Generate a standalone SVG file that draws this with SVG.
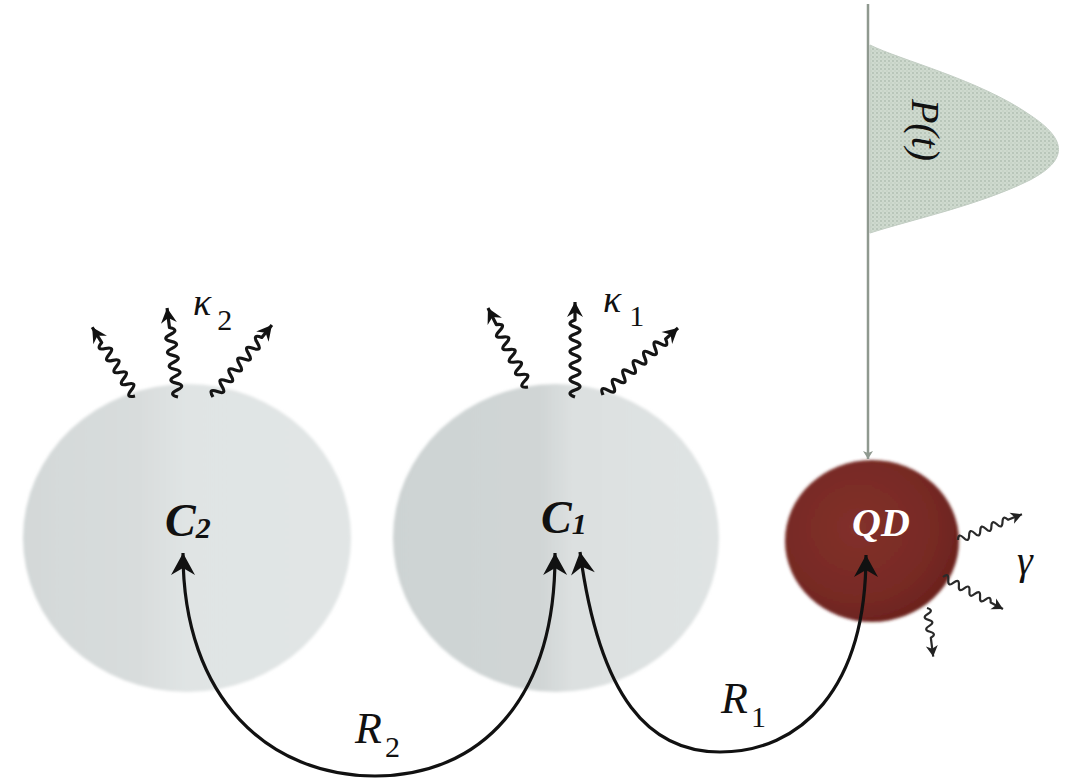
<svg xmlns="http://www.w3.org/2000/svg" width="1066" height="782" viewBox="0 0 1066 782">
  <style>
    .math { font-family: "Liberation Serif", "DejaVu Serif", serif; font-style: italic; fill: #111; }
    .lbl { font-family: "Liberation Serif", "DejaVu Serif", serif; font-style: italic; font-weight: bold; fill: #111; }
    .wave { fill: none; stroke: #151515; stroke-width: 3.2; stroke-linejoin: round; marker-end: url(#wh); }
    .gwave { fill: none; stroke: #2a2a2a; stroke-width: 2.2; stroke-linejoin: round; marker-end: url(#gh); }
    .arc { fill: none; stroke: #111; stroke-width: 3.2; marker-start: url(#ah); marker-end: url(#ah); }
  </style>
  <defs>
    <linearGradient id="cav" x1="0" y1="0" x2="1" y2="0">
      <stop offset="0" stop-color="#d3d8d8"/>
      <stop offset="0.35" stop-color="#d8dcdc"/>
      <stop offset="0.5" stop-color="#e0e4e4"/>
      <stop offset="1" stop-color="#e1e5e5"/>
    </linearGradient>
    <linearGradient id="cav1" x1="0" y1="0" x2="1" y2="0">
      <stop offset="0" stop-color="#cdd3d3"/>
      <stop offset="0.45" stop-color="#d0d5d5"/>
      <stop offset="0.55" stop-color="#dce0e0"/>
      <stop offset="1" stop-color="#dfe3e3"/>
    </linearGradient>
    <radialGradient id="qd" cx="0.42" cy="0.42" r="0.62">
      <stop offset="0" stop-color="#82302a"/>
      <stop offset="0.7" stop-color="#772a24"/>
      <stop offset="1" stop-color="#6a211d"/>
    </radialGradient>
    <filter id="soft" x="-10%" y="-10%" width="120%" height="120%">
      <feGaussianBlur stdDeviation="1.5"/>
    </filter>
    <pattern id="dots" width="4" height="4" patternUnits="userSpaceOnUse">
      <rect width="4" height="4" fill="#cfdacf"/>
      <circle cx="1" cy="1" r="0.9" fill="#aebdb0"/>
      <circle cx="3" cy="3" r="0.7" fill="#bccabd"/>
    </pattern>
    <marker id="ah" markerUnits="userSpaceOnUse" markerWidth="30" markerHeight="30" viewBox="-24 -15 26 30" refX="0" refY="0" orient="auto-start-reverse">
      <path d="M0,0 L-22,-12 L-15,0 L-22,12 Z" fill="#111"/>
    </marker>
    <marker id="wh" markerUnits="userSpaceOnUse" markerWidth="22" markerHeight="22" viewBox="-18 -11 20 22" refX="0" refY="0" orient="auto">
      <path d="M0,0 L-15,-8 L-10,0 L-15,8 Z" fill="#111"/>
    </marker>
    <marker id="gh" markerUnits="userSpaceOnUse" markerWidth="20" markerHeight="20" viewBox="-14 -10 16 20" refX="0" refY="0" orient="auto">
      <path d="M0,0 L-11,-6 L-8,0 L-11,6 Z" fill="#222"/>
    </marker>
    <marker id="vh" markerUnits="userSpaceOnUse" markerWidth="14" markerHeight="14" viewBox="-10 -7 12 14" refX="0" refY="0" orient="auto">
      <path d="M0,0 L-8,-5 L-6,0 L-8,5 Z" fill="#8f998f"/>
    </marker>
  </defs>

  <rect width="1066" height="782" fill="#ffffff"/>

  <!-- pulse flag -->
  <g id="pulse">
    <path d="M870,45 C900,60 980,80 1030,115 C1068,140 1068,160 1030,180 C980,205 910,220 870,233 Z" fill="url(#dots)" stroke="#c3cec4" stroke-width="1"/>
    <text class="math" font-size="40" text-anchor="middle" transform="translate(912,130) rotate(90)">P(t)</text>
  </g>

  <!-- C2 cavity -->
  <g id="C2">
    <ellipse cx="187" cy="538" rx="164" ry="154" fill="url(#cav)" filter="url(#soft)"/>
    <text class="lbl" x="165" y="536" font-size="46">C<tspan font-size="30" dy="2">2</tspan></text>
    <path class="wave" transform="translate(135,396) rotate(-121.9)" d="M0,0 q3.5,-10 7,0 t7,0 t7,0 t7,0 t7,0 t7,0 t7,0 t7,0 t7,0 l18,0"/>
    <path class="wave" transform="translate(178,397) rotate(-97)" d="M0,0 q3.5,-10 7,0 t7,0 t7,0 t7,0 t7,0 t7,0 t7,0 t7,0 t7,0 t7,0 l19.7,0"/>
    <path class="wave" transform="translate(213,397) rotate(-50.7)" d="M0,0 q3.5,-10 7,0 t7,0 t7,0 t7,0 t7,0 t7,0 t7,0 t7,0 t7,0 t7,0 t7,0 l16,0"/>
    <text class="math" x="193" y="315" font-size="38">κ<tspan font-style="normal" font-size="30" dx="6" dy="15">2</tspan></text>
  </g>

  <!-- C1 cavity -->
  <g id="C1">
    <ellipse cx="556" cy="538" rx="163" ry="154" fill="url(#cav1)" filter="url(#soft)"/>
    <text class="lbl" x="541" y="533" font-size="46">C<tspan font-size="30" dy="1">1</tspan></text>
    <path class="wave" transform="translate(528,387) rotate(-116.9)" d="M0,0 q3.5,-10 7,0 t7,0 t7,0 t7,0 t7,0 t7,0 t7,0 t7,0 t7,0 t7,0 l18.5,0"/>
    <path class="wave" transform="translate(575,397) rotate(-90)" d="M0,0 q3.5,-10 7,0 t7,0 t7,0 t7,0 t7,0 t7,0 t7,0 t7,0 t7,0 t7,0 t7,0 l18,0"/>
    <path class="wave" transform="translate(603,395) rotate(-41.8)" d="M0,0 q3.5,-10 7,0 t7,0 t7,0 t7,0 t7,0 t7,0 t7,0 t7,0 t7,0 t7,0 t7,0 t7,0 l16.6,0"/>
    <text class="math" x="603" y="312" font-size="38">κ<tspan font-style="normal" font-size="30" dx="8" dy="14">1</tspan></text>
  </g>

  <!-- Quantum dot -->
  <g id="QD">
    <ellipse cx="872" cy="541" rx="87" ry="81" fill="url(#qd)" filter="url(#soft)"/>
    <text x="881" y="536" font-size="40" text-anchor="middle" font-family="Liberation Serif, DejaVu Serif, serif" font-style="italic" font-weight="bold" fill="#ffffff">QD</text>
    <path class="gwave" transform="translate(958,540) rotate(-22)" d="M0,0 q3,-7 6,0 t6,0 t6,0 t6,0 t6,0 t6,0 t6,0 t6,0 t6,0 l15,0"/>
    <path class="gwave" transform="translate(943,577) rotate(28.1)" d="M0,0 q3,-7 6,0 t6,0 t6,0 t6,0 t6,0 t6,0 t6,0 t6,0 t6,0 l14,0"/>
    <path class="gwave" transform="translate(927,608) rotate(82.7)" d="M0,0 q3,-7 6,0 t6,0 t6,0 t6,0 t6,0 l19,0"/>
    <text class="math" x="1025" y="574" font-size="40" text-anchor="middle">γ</text>
  </g>

  <!-- connectors -->
  <g id="connectors">
    <path d="M868,4 L868,459" stroke="#8f998f" stroke-width="2.5" fill="none" marker-end="url(#vh)"/>
    <path class="arc" d="M183,553 C183,700 270,776 375,776 C480,776 556,700 555,553"/>
    <path class="arc" d="M580,552 C600,700 650,752 720,752 C800,752 866,690 866,555"/>
    <text class="math" x="355" y="743" font-size="44">R<tspan font-style="normal" font-size="30" dx="3" dy="14">2</tspan></text>
    <text class="math" x="721" y="713" font-size="44">R<tspan font-style="normal" font-size="30" dx="3" dy="14">1</tspan></text>
  </g>
</svg>
